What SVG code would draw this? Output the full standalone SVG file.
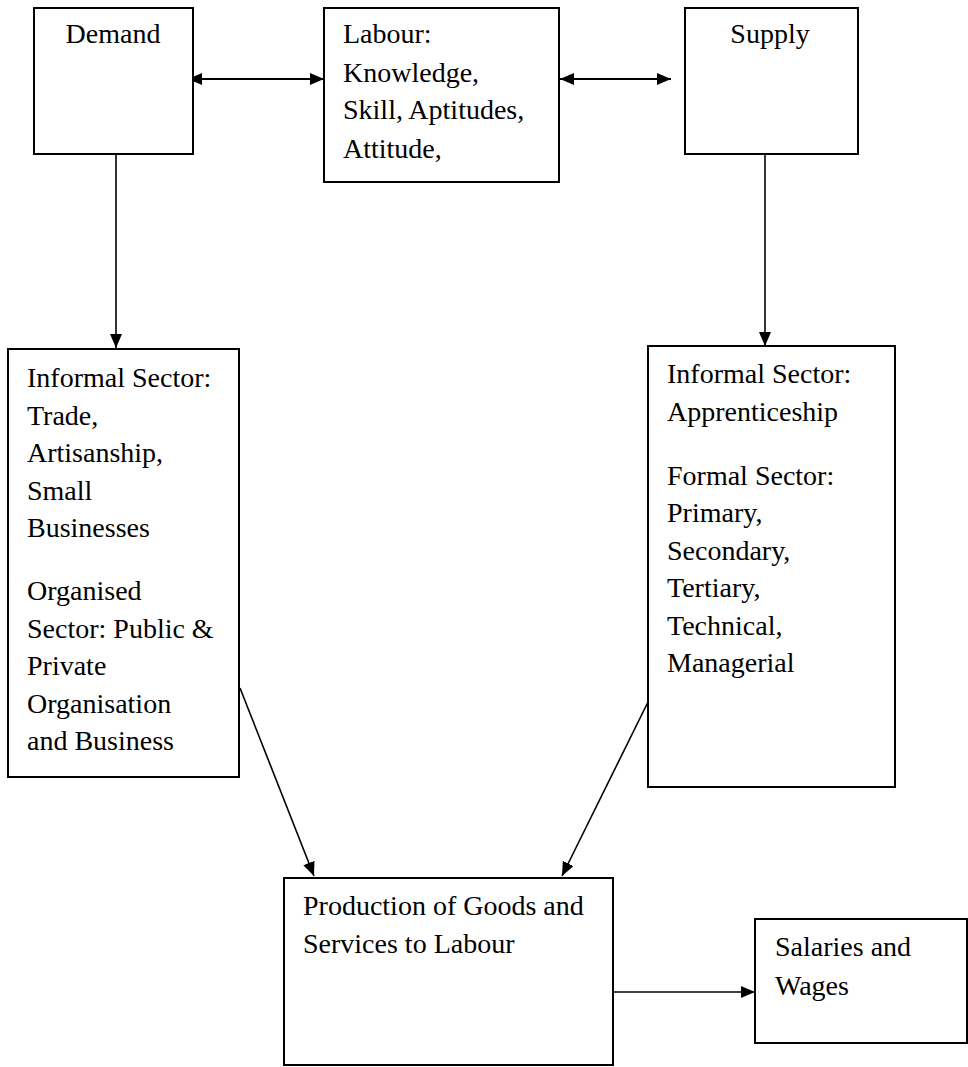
<svg xmlns="http://www.w3.org/2000/svg" width="968" height="1067" viewBox="0 0 968 1067">
<style>
.box{fill:#fff;stroke:#000;stroke-width:2}
.t{font-family:'Liberation Serif','DejaVu Serif',serif;font-size:28px;fill:#000}
.c{fill:none;stroke:#000;stroke-width:1.6}
.c2{fill:none;stroke:#000;stroke-width:2}
</style>
<defs>
<marker id="ah" markerUnits="userSpaceOnUse" markerWidth="16" markerHeight="12" refX="14" refY="6" orient="auto-start-reverse">
<path d="M0,0 L14,6 L0,12 Z" fill="#000"/>
</marker>
</defs>
<rect width="968" height="1067" fill="#fff"/>
<g id="connectors">
<line class="c2" x1="188" y1="79" x2="324" y2="79" marker-start="url(#ah)" marker-end="url(#ah)"/>
<line class="c2" x1="560" y1="79" x2="671" y2="79" marker-start="url(#ah)" marker-end="url(#ah)"/>
<line class="c" x1="116" y1="154" x2="116" y2="348" marker-end="url(#ah)"/>
<line class="c" x1="765" y1="154" x2="765" y2="346" marker-end="url(#ah)"/>
<line class="c" x1="240" y1="688" x2="314" y2="876" marker-end="url(#ah)"/>
<line class="c" x1="648" y1="702" x2="562" y2="876" marker-end="url(#ah)"/>
<line class="c" x1="613" y1="992" x2="755" y2="992" marker-end="url(#ah)"/>
</g>
<g id="demand">
<rect class="box" x="34" y="8" width="159" height="146"/>
<text class="t" font-family="Liberation Serif" x="113" y="43" text-anchor="middle">Demand</text>
</g>
<g id="labour">
<rect class="box" x="324" y="8" width="235" height="174"/>
<text class="t" x="343" y="43">Labour:</text>
<text class="t" x="343" y="82">Knowledge,</text>
<text class="t" x="343" y="119">Skill, Aptitudes,</text>
<text class="t" x="343" y="158">Attitude,</text>
</g>
<g id="supply">
<rect class="box" x="685" y="8" width="173" height="146"/>
<text class="t" x="770" y="43" text-anchor="middle">Supply</text>
</g>
<g id="demand-sectors">
<rect class="box" x="8" y="349" width="231" height="428"/>
<text class="t" x="27" y="387">Informal Sector:</text>
<text class="t" x="27" y="424.5">Trade,</text>
<text class="t" x="27" y="462">Artisanship,</text>
<text class="t" x="27" y="499.5">Small</text>
<text class="t" x="27" y="537">Businesses</text>
<text class="t" x="27" y="600">Organised</text>
<text class="t" x="27" y="637.5">Sector: Public &amp;</text>
<text class="t" x="27" y="675">Private</text>
<text class="t" x="27" y="712.5">Organisation</text>
<text class="t" x="27" y="750">and Business</text>
</g>
<g id="supply-sectors">
<rect class="box" x="648" y="346" width="247" height="441"/>
<text class="t" x="667" y="383">Informal Sector:</text>
<text class="t" x="667" y="421">Apprenticeship</text>
<text class="t" x="667" y="485">Formal Sector:</text>
<text class="t" x="667" y="522">Primary,</text>
<text class="t" x="667" y="560">Secondary,</text>
<text class="t" x="667" y="597">Tertiary,</text>
<text class="t" x="667" y="635">Technical,</text>
<text class="t" x="667" y="672">Managerial</text>
</g>
<g id="production">
<rect class="box" x="284" y="878" width="329" height="187"/>
<text class="t" x="303" y="915">Production of Goods and</text>
<text class="t" x="303" y="953">Services to Labour</text>
</g>
<g id="salaries">
<rect class="box" x="755" y="919" width="212" height="124"/>
<text class="t" x="775" y="956">Salaries and</text>
<text class="t" x="775" y="995">Wages</text>
</g>
</svg>
